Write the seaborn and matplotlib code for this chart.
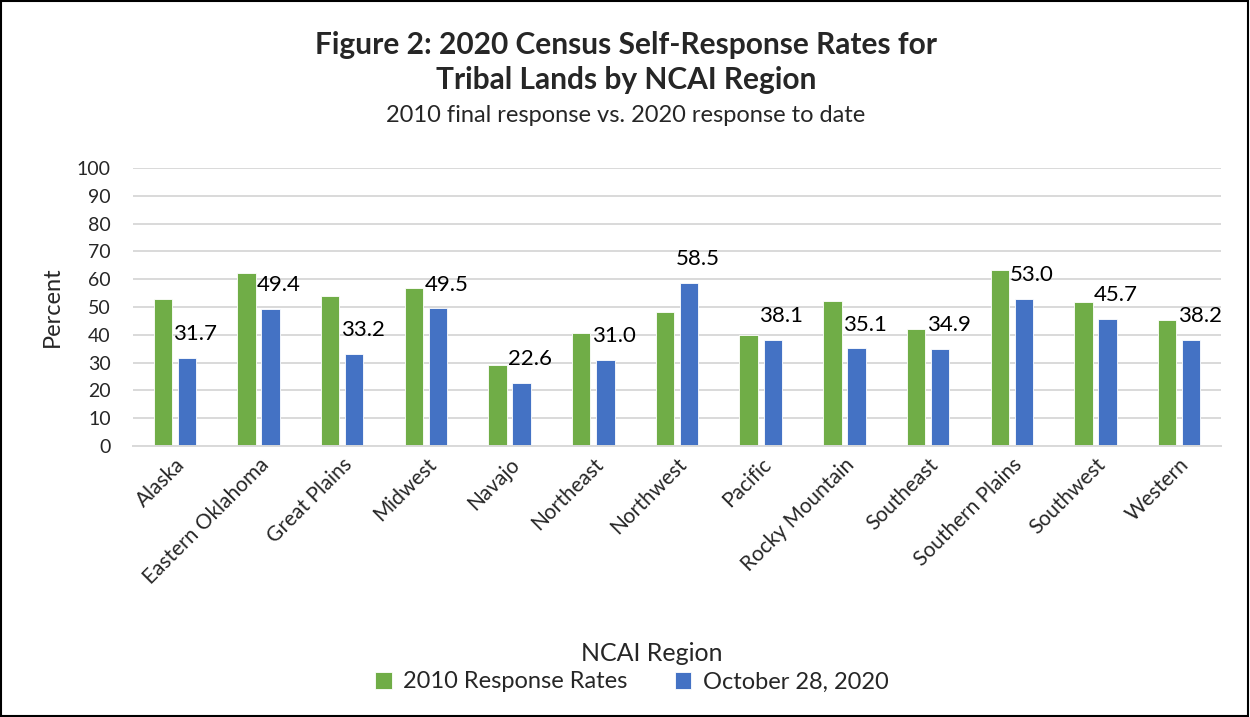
import numpy as np
import pandas as pd
import matplotlib
matplotlib.use("Agg")
import matplotlib.pyplot as plt
import seaborn as sns
from matplotlib.patches import Rectangle

regions = ['Alaska', 'Eastern Oklahoma', 'Great Plains', 'Midwest', 'Navajo',
           'Northeast', 'Northwest', 'Pacific', 'Rocky Mountain', 'Southeast',
           'Southern Plains', 'Southwest', 'Western']
# 2010 values (no labels in the original)
rates_2010 = [53.0, 62.3, 54.0, 57.0, 29.1, 40.5, 48.2, 39.9, 52.3, 42.2, 63.3, 51.8, 45.4]
rates_2020 = [31.7, 49.4, 33.2, 49.5, 22.6, 31.0, 58.5, 38.1, 35.1, 34.9, 53.0, 45.7, 38.2]
series_names = ['2010 Response Rates', 'October 28, 2020']

a = pd.DataFrame({'region': regions, 'rate': rates_2010})
b = pd.DataFrame({'region': regions, 'rate': rates_2020})
a['series'] = series_names[0]
b['series'] = series_names[1]
df = pd.concat([a, b], ignore_index=True)

sns.set_style('white')
plt.rcParams['font.family'] = ['Lato', 'DejaVu Sans']

fig = plt.figure(figsize=(12.5, 7.17), dpi=100)
ax = fig.add_axes([133/1250, 1-446/717, 1088/1250, 278/717])

sns.barplot(data=df, x='region', y='rate', hue='series', order=regions,
            hue_order=series_names, palette=['#70AD47', '#4472C4'],
            width=0.576, gap=0.236, edgecolor='white', linewidth=0.6,
            saturation=1, ax=ax, legend=True)

# labels for the 2020 bars only
for bar, v in zip(ax.containers[1], rates_2020):
    ax.annotate(f'{v:.1f}', (bar.get_x() + bar.get_width()/2, v),
                xytext=(6, 10), textcoords='offset points',
                ha='center', va='bottom', fontsize=16, color='black')

ax.set_xlim(-0.5, 12.5)
ax.set_ylim(0, 100)
ax.set_yticks(range(0, 101, 10))
ax.yaxis.grid(True, color='#D9D9D9', linewidth=1.4)
ax.set_axisbelow(True)
for s in ['top', 'right', 'left']:
    ax.spines[s].set_visible(False)
ax.spines['bottom'].set_color('#D9D9D9')
ax.spines['bottom'].set_linewidth(1.4)
ax.tick_params(axis='both', length=0)
ax.tick_params(axis='y', pad=16, labelsize=14)
ax.tick_params(axis='x', pad=6, labelsize=15)
plt.setp(ax.get_xticklabels(), rotation=45, ha='right', rotation_mode='anchor')

ax.set_ylabel('Percent', fontsize=17)
ax.yaxis.set_label_coords(-0.064, 0.5)
ax.set_xlabel('NCAI Region', fontsize=18)
ax.xaxis.set_label_coords((652-133)/1088, (446-642)/278)

handles, labels = ax.get_legend_handles_labels()
ax.legend_.remove()
fig.legend(handles, labels, loc='center', bbox_to_anchor=(632/1250, 1-682/717),
           ncol=2, frameon=False, fontsize=17, handlelength=0.7, handleheight=0.7,
           columnspacing=2.0, handletextpad=0.5)

fig.text(626/1250, 1-45/717, 'Figure 2: 2020 Census Self-Response Rates for',
         ha='center', va='center', fontsize=21.5, fontweight='bold')
fig.text(626/1250, 1-80/717, 'Tribal Lands by NCAI Region',
         ha='center', va='center', fontsize=21.5, fontweight='bold')
fig.text(626/1250, 1-116/717, '2010 final response vs. 2020 response to date',
         ha='center', va='center', fontsize=17)

fig.add_artist(Rectangle((0.001, 0.002), 0.997, 0.996, transform=fig.transFigure,
                         fill=False, edgecolor='black', linewidth=1.5))

fig.savefig('out.png', dpi=100)
